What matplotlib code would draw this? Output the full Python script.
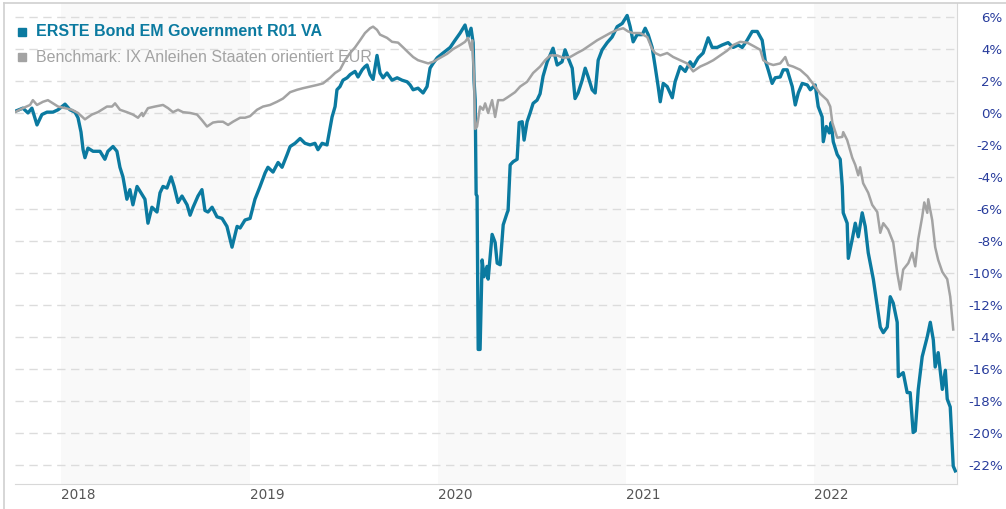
import matplotlib
matplotlib.use("Agg")
import matplotlib.pyplot as plt
from matplotlib.patches import Rectangle
from matplotlib.lines import Line2D

# ---------------- data (time in decimal years, value in %) ----------------
fund_t = [2017.753, 2017.795, 2017.822, 2017.843, 2017.870, 2017.896, 2017.923, 2017.955, 2017.982,
          2018.019, 2018.045, 2018.072, 2018.088, 2018.104, 2018.115, 2018.125, 2018.141, 2018.168,
          2018.205, 2018.231, 2018.247, 2018.274, 2018.295, 2018.311, 2018.327, 2018.348, 2018.364,
          2018.380, 2018.402, 2018.428, 2018.444, 2018.460, 2018.481, 2018.508, 2018.524, 2018.540,
          2018.561, 2018.583, 2018.599, 2018.620, 2018.641, 2018.668, 2018.684, 2018.700, 2018.726,
          2018.747, 2018.763, 2018.779, 2018.801, 2018.827, 2018.854, 2018.880, 2018.907, 2018.934,
          2018.950, 2018.976, 2019.003, 2019.029, 2019.056, 2019.083, 2019.098, 2019.125, 2019.152,
          2019.173, 2019.200, 2019.216, 2019.242, 2019.269, 2019.295, 2019.322, 2019.348, 2019.364,
          2019.386, 2019.412, 2019.423, 2019.439, 2019.455, 2019.465, 2019.481, 2019.497, 2019.519,
          2019.535, 2019.561, 2019.577, 2019.599, 2019.614, 2019.625, 2019.641, 2019.657, 2019.678,
          2019.694, 2019.710, 2019.731, 2019.758, 2019.785, 2019.811, 2019.838, 2019.854, 2019.870,
          2019.896, 2019.923, 2019.944, 2019.960, 2019.976, 2019.998, 2020.029, 2020.067, 2020.093,
          2020.120, 2020.146, 2020.162, 2020.178, 2020.189, 2020.194, 2020.200, 2020.205, 2020.210,
          2020.216, 2020.226, 2020.237, 2020.247, 2020.263, 2020.269, 2020.290, 2020.306, 2020.317,
          2020.333, 2020.349, 2020.370, 2020.375, 2020.386, 2020.402, 2020.423, 2020.434, 2020.450,
          2020.460, 2020.476, 2020.492, 2020.508, 2020.529, 2020.545, 2020.561, 2020.583, 2020.614,
          2020.636, 2020.662, 2020.678, 2020.694, 2020.716, 2020.731, 2020.747, 2020.769, 2020.785,
          2020.801, 2020.822, 2020.838, 2020.854, 2020.875, 2020.902, 2020.928, 2020.955, 2020.982,
          2021.008, 2021.024, 2021.040, 2021.061, 2021.088, 2021.104, 2021.120, 2021.141, 2021.157,
          2021.173, 2021.184, 2021.200, 2021.221, 2021.248, 2021.263, 2021.290, 2021.317, 2021.343,
          2021.359, 2021.386, 2021.412, 2021.439, 2021.460, 2021.487, 2021.513, 2021.545, 2021.572,
          2021.599, 2021.620, 2021.646, 2021.673, 2021.700, 2021.726, 2021.742, 2021.758, 2021.779,
          2021.795, 2021.822, 2021.838, 2021.859, 2021.886, 2021.902, 2021.918, 2021.939, 2021.966,
          2021.982, 2022.008, 2022.024, 2022.045, 2022.051, 2022.067, 2022.083, 2022.093, 2022.104,
          2022.125, 2022.141, 2022.152, 2022.157, 2022.178, 2022.184, 2022.205, 2022.221, 2022.237,
          2022.258, 2022.274, 2022.290, 2022.317, 2022.338, 2022.354, 2022.370, 2022.391, 2022.407,
          2022.423, 2022.444, 2022.450, 2022.476, 2022.497, 2022.513, 2022.529, 2022.540, 2022.556,
          2022.577, 2022.604, 2022.620, 2022.636, 2022.646, 2022.662, 2022.684, 2022.700, 2022.710,
          2022.726, 2022.742, 2022.753]
fund_v = [0.1, 0.3, 0.0, 0.3, -0.75, -0.1, 0.05, 0.05, 0.2,
          0.55, 0.2, 0.05, -0.3, -1.2, -2.3, -2.8, -2.2, -2.4,
          -2.4, -2.9, -2.4, -2.1, -2.4, -3.4, -4.0, -5.4, -4.8,
          -5.75, -4.6, -5.1, -5.4, -6.9, -5.9, -6.2, -5.0, -4.6,
          -4.7, -4.0, -4.6, -5.6, -5.2, -5.75, -6.4, -5.9, -5.2,
          -4.8, -6.1, -6.2, -5.9, -6.5, -6.6, -7.1, -8.4, -7.1,
          -7.2, -6.7, -6.6, -5.4, -4.6, -3.75, -3.4, -3.7, -3.1,
          -3.4, -2.6, -2.1, -1.9, -1.6, -1.9, -2.0, -1.9, -2.3,
          -1.9, -2.0, -1.3, -0.25, 0.4, 1.45, 1.65, 2.05, 2.2,
          2.4, 2.6, 2.25, 2.7, 2.9, 3.0, 2.4, 2.1, 3.6,
          2.5, 2.2, 2.5, 2.05, 2.2, 2.05, 1.95, 1.75, 1.45,
          1.55, 1.25, 1.65, 2.8, 3.1, 3.45, 3.75, 4.1, 4.55,
          5.0, 5.5, 4.75, 5.3, 4.4, 2.0, 0.8, -5.1, -5.2,
          -14.8, -14.8, -9.2, -10.25, -9.6, -10.4, -7.6, -8.1, -9.4,
          -9.5, -7.0, -6.25, -6.1, -3.25, -3.05, -2.9, -0.6, -0.55,
          -1.7, -0.55, 0.0, 0.6, 0.8, 1.2, 2.3, 3.2, 4.05,
          3.0, 3.2, 3.95, 3.45, 2.8, 0.9, 1.25, 2.05, 2.8,
          2.25, 1.45, 1.25, 3.3, 3.95, 4.4, 4.75, 5.4, 5.6,
          6.1, 5.4, 4.45, 4.9, 4.9, 5.3, 4.9, 4.1, 2.9,
          1.65, 0.7, 1.85, 1.65, 0.95, 1.95, 2.9, 2.6, 3.2,
          2.9, 3.45, 3.75, 4.7, 4.1, 4.1, 4.25, 4.4, 4.1,
          4.25, 4.1, 4.55, 5.1, 5.1, 4.55, 3.3, 2.7, 1.85,
          2.2, 2.25, 2.7, 2.7, 1.65, 0.5, 1.25, 1.85, 1.75,
          1.45, 1.75, 0.4, -0.25, -1.8, -0.85, -1.25, -0.6, -1.8,
          -2.6, -2.9, -4.6, -6.25, -6.9, -9.1, -7.9, -6.9, -7.75,
          -6.25, -7.1, -8.75, -10.4, -12.1, -13.4, -13.75, -13.4, -11.5,
          -11.9, -13.1, -16.5, -16.25, -17.5, -17.5, -20.0, -19.9, -17.3,
          -15.25, -14.0, -13.1, -14.2, -15.9, -15.0, -17.3, -16.1, -17.9,
          -18.4, -22.1, -22.4]

bench_t = [2017.753, 2017.795, 2017.833, 2017.848, 2017.870, 2017.902, 2017.928, 2017.955, 2017.982,
           2018.019, 2018.056, 2018.088, 2018.125, 2018.162, 2018.194, 2018.242, 2018.269, 2018.285,
           2018.311, 2018.348, 2018.380, 2018.407, 2018.428, 2018.434, 2018.460, 2018.497, 2018.540,
           2018.567, 2018.593, 2018.620, 2018.646, 2018.684, 2018.721, 2018.747, 2018.774, 2018.806,
           2018.833, 2018.859, 2018.886, 2018.912, 2018.950, 2018.976, 2019.003, 2019.040, 2019.072,
           2019.109, 2019.146, 2019.178, 2019.216, 2019.253, 2019.285, 2019.322, 2019.359, 2019.391,
           2019.428, 2019.455, 2019.481, 2019.508, 2019.535, 2019.561, 2019.588, 2019.614, 2019.641,
           2019.657, 2019.678, 2019.694, 2019.731, 2019.758, 2019.790, 2019.817, 2019.843, 2019.870,
           2019.896, 2019.923, 2019.950, 2019.976, 2020.013, 2020.051, 2020.083, 2020.120, 2020.146,
           2020.162, 2020.178, 2020.184, 2020.194, 2020.200, 2020.210, 2020.226, 2020.242, 2020.253,
           2020.269, 2020.290, 2020.306, 2020.322, 2020.349, 2020.375, 2020.412, 2020.439, 2020.476,
           2020.508, 2020.545, 2020.572, 2020.599, 2020.636, 2020.668, 2020.705, 2020.742, 2020.774,
           2020.811, 2020.849, 2020.880, 2020.918, 2020.955, 2020.987, 2021.013, 2021.040, 2021.077,
           2021.115, 2021.141, 2021.157, 2021.184, 2021.221, 2021.253, 2021.290, 2021.327, 2021.359,
           2021.396, 2021.434, 2021.466, 2021.503, 2021.540, 2021.572, 2021.609, 2021.646, 2021.678,
           2021.716, 2021.732, 2021.758, 2021.785, 2021.822, 2021.849, 2021.864, 2021.891, 2021.928,
           2021.966, 2021.998, 2022.035, 2022.072, 2022.088, 2022.099, 2022.125, 2022.152, 2022.157,
           2022.178, 2022.205, 2022.221, 2022.237, 2022.247, 2022.263, 2022.290, 2022.311, 2022.338,
           2022.354, 2022.370, 2022.396, 2022.423, 2022.444, 2022.460, 2022.476, 2022.503, 2022.524,
           2022.540, 2022.556, 2022.577, 2022.588, 2022.604, 2022.609, 2022.630, 2022.646, 2022.662,
           2022.684, 2022.710, 2022.726, 2022.742]
bench_v = [0.05, 0.3, 0.5, 0.8, 0.5, 0.7, 0.8, 0.6, 0.4,
           0.3, 0.2, 0.0, -0.4, -0.1, 0.05, 0.4, 0.4, 0.6,
           0.2, 0.05, -0.1, -0.3, 0.0, -0.2, 0.3, 0.4, 0.5,
           0.3, 0.05, 0.2, 0.05, 0.0, -0.1, -0.45, -0.85, -0.6,
           -0.55, -0.55, -0.75, -0.55, -0.3, -0.3, -0.2, 0.2, 0.4,
           0.5, 0.7, 0.9, 1.3, 1.45, 1.55, 1.65, 1.75, 1.85,
           2.2, 2.5, 2.7, 3.3, 3.75, 4.1, 4.55, 5.0, 5.3,
           5.4, 5.2, 4.9, 4.7, 4.45, 4.4, 4.1, 3.8, 3.5,
           3.3, 3.2, 3.1, 3.2, 3.45, 3.7, 4.0, 4.25, 4.45,
           4.7, 3.95, 4.55, 2.25, -1.0, -0.85, 0.4, 0.2, 0.6,
           0.0, 0.8, -0.25, 0.8, 0.8, 1.0, 1.3, 1.65, 1.95,
           2.5, 2.9, 3.3, 3.6, 3.6, 3.45, 3.5, 3.75, 3.95,
           4.25, 4.55, 4.75, 5.0, 5.2, 5.3, 5.1, 5.0, 5.0,
           4.75, 4.0, 3.75, 3.6, 3.75, 3.5, 3.3, 3.1, 2.6,
           2.9, 3.1, 3.3, 3.6, 3.9, 4.25, 4.45, 4.4, 4.2,
           3.95, 3.3, 3.1, 3.0, 3.1, 3.5, 3.0, 2.9, 2.7,
           2.3, 1.8, 1.2, 0.8, 0.4, -0.6, -1.55, -1.5, -1.2,
           -1.7, -2.8, -3.25, -3.9, -3.4, -4.4, -5.0, -5.75, -6.2,
           -7.5, -6.9, -7.3, -8.1, -10.0, -11.05, -9.8, -9.4, -8.75,
           -9.6, -7.9, -6.5, -5.6, -6.25, -5.4, -6.7, -8.4, -9.2,
           -9.95, -10.4, -11.5, -13.55]

series_names = ["ERSTE Bond EM Government R01 VA",
                "Benchmark: IX Anleihen Staaten orientiert EUR"]
years = [2018, 2019, 2020, 2021, 2022]
year_labels = ["2018", "2019", "2020", "2021", "2022"]
shaded_years = [2018, 2020, 2022]
y_ticks = list(range(-22, 7, 2))
y_tick_labels = [f"{v}%" for v in y_ticks]

# ---------------- styling ----------------
FUND_C = "#0b7aa0"
BENCH_C = "#a3a3a3"
W, H = 1006, 509
fig = plt.figure(figsize=(W / 100, H / 100), dpi=100)
fig.patch.set_facecolor("white")

ax = fig.add_axes([15 / W, 1 - 484 / H, (957 - 15) / W, (484 - 3) / H])
ax.set_facecolor("white")
x0, x1 = fund_t[0], 2022.762
ax.set_xlim(x0, x1)
ax.set_ylim(-23.22, 6.88)

for y in shaded_years:
    ax.axvspan(y, min(y + 1, x1), color="#f9f9f9", lw=0, zorder=0.1)

ax.set_axisbelow(True)
ax.yaxis.grid(True, color="#dcdcdc", lw=1.0, linestyle=(0, (6, 4)))
ax.xaxis.grid(False)

ax.plot(fund_t, fund_v, color=FUND_C, lw=2.4, solid_joinstyle="round", zorder=3)
ax.plot(bench_t, bench_v, color=BENCH_C, lw=1.8, solid_joinstyle="round", zorder=4)

for s in ["left", "top"]:
    ax.spines[s].set_visible(False)
ax.spines["right"].set_color("#d8d8d8")
ax.spines["bottom"].set_color("#d8d8d8")

ax.yaxis.tick_right()
ax.set_yticks(y_ticks)
ax.set_yticklabels(y_tick_labels, fontsize=9.6, color="#283c9c", family="DejaVu Sans")
ax.tick_params(axis="y", length=0, pad=33)
for lbl in ax.get_yticklabels():
    lbl.set_horizontalalignment("right")

ax.set_xticks(years)
ax.set_xticklabels(year_labels, fontsize=9.8, color="#555555", family="DejaVu Sans")
ax.tick_params(axis="x", length=0, pad=3)
for lbl in ax.get_xticklabels():
    lbl.set_horizontalalignment("left")

# outer frame
fig.add_artist(Line2D([4 / W, 4 / W], [0, 1 - 3 / H], color="#d0d0d0", lw=1.2, transform=fig.transFigure))
fig.add_artist(Line2D([4 / W, 1], [1 - 3 / H, 1 - 3 / H], color="#d0d0d0", lw=1.2, transform=fig.transFigure))

# legend
fig.add_artist(Rectangle((18 / W, 1 - 36 / H), 8 / W, 8 / H, color=FUND_C, transform=fig.transFigure))
fig.add_artist(Rectangle((18 / W, 1 - 61 / H), 8 / W, 8 / H, color=BENCH_C, transform=fig.transFigure))
fig.text(36 / W, 1 - 32 / H, series_names[0], color=FUND_C, fontsize=11.5, fontweight="bold",
         family="Liberation Sans", va="center", ha="left")
fig.text(36 / W, 1 - 57 / H, series_names[1], color=BENCH_C, fontsize=11.5,
         family="Liberation Sans", va="center", ha="left")

fig.savefig("out.png", dpi=100, facecolor="white")
